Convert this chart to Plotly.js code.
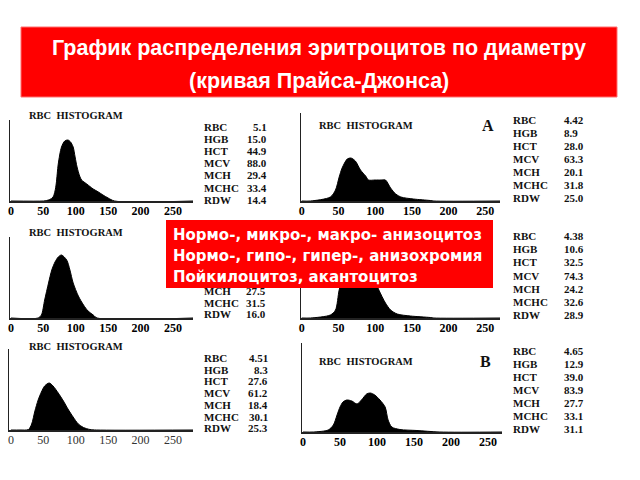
<!DOCTYPE html>
<html><head><meta charset="utf-8">
<script src="https://cdn.plot.ly/plotly-3.0.1.min.js"></script>
<style>html,body{margin:0;padding:0;background:#fff}#chart{width:640px;height:480px}</style>
</head><body><div id="chart"></div>
<script>
// ---------- DATA ----------
const titleLines = ["График распределения эритроцитов по диаметру", "(кривая Прайса-Джонса)"];
const noteLines = ["Нормо-, микро-, макро- анизоцитоз", "Нормо-, гипо-, гипер-, анизохромия", "Пойкилоцитоз, акантоцитоз"];
const histTitle = "RBC  HISTOGRAM";
const mcvTicks = [0, 50, 100, 150, 200, 250];
const paramNames = ["RBC", "HGB", "HCT", "MCV", "MCH", "MCHC", "RDW"];

// curve 1: normal
const c1_mcv = [0, 50, 55, 60, 65, 68, 70, 73, 78, 83, 88, 92, 96, 99, 102, 106, 109, 117, 127, 135, 142, 150, 160, 281];
const c1_cnt = [0, 0, 0.5, 1.5, 4, 10, 18, 37, 54, 60, 61, 59, 54, 44, 34, 25, 21, 17, 12, 9, 6, 3, 0, 0];
// curve 2: A
const c2_mcv = [0, 12, 39, 46, 51, 55, 62, 67, 73, 80, 87, 91, 100, 108, 114, 121, 128, 135, 152, 175, 180, 270];
const c2_cnt = [0, 0, 4, 11, 24, 33, 42, 43, 40, 31, 25, 21, 21, 21, 21, 13, 7, 4, 2, 0.5, 0, 0];
// curve 3
const c3_mcv = [0, 42, 47, 52, 58, 63, 68, 73, 78, 86, 91, 96, 104, 112, 119, 127, 133, 281];
const c3_cnt = [0, 0, 3, 18, 35, 48, 56, 61, 63, 58, 48, 35, 22, 13, 7, 3, 0, 0];
// curve 4 (peak partly hidden)
const c4_mcv = [0, 12, 39, 46, 51, 56, 62, 70, 80, 90, 98, 105, 114, 121, 130, 148, 175, 180, 270];
const c4_cnt = [0, 0, 3, 8, 28, 40, 46, 48, 45, 44, 40, 28, 15, 8, 4, 2, 0.5, 0, 0];
// curve 5
const c5_mcv = [0, 14, 27, 32, 37, 42, 47, 52, 59, 65, 73, 81, 88, 96, 104, 112, 122, 132, 281];
const c5_cnt = [0, 0, 0.5, 6, 19, 30, 38, 44, 47, 44, 37, 29, 21, 13, 6, 2.5, 0.5, 0, 0];
// curve 6: B
const c6_mcv = [0, 14, 34, 41, 46, 50, 54, 59, 66, 73, 79, 86, 91, 97, 104, 111, 115, 120, 131, 154, 185, 269];
const c6_cnt = [0, 0, 2, 7, 17, 25, 30, 32, 31, 28, 32, 38, 39, 37, 32, 25, 12, 5, 2.5, 1.5, 0, 0];

const v1 = ["5.1", "15.0", "44.9", "88.0", "29.4", "33.4", "14.4"];
const v2 = ["4.42", "8.9", "28.0", "63.3", "20.1", "31.8", "25.0"];
const v3names = ["MCH", "MCHC", "RDW"];
const v3 = ["27.5", "31.5", "16.0"];
const v4 = ["4.38", "10.6", "32.5", "74.3", "24.2", "32.6", "28.9"];
const v5 = ["4.51", "8.3", "27.6", "61.2", "18.4", "30.1", "25.3"];
const v6 = ["4.65", "12.9", "39.0", "83.9", "27.7", "33.1", "31.1"];
const panelLetters = ["A", "B"];

// ---------- LAYOUT ----------
const W = 640, H = 480;
const px = x => x / W, py = y => 1 - y / H;
const serif = "Liberation Serif";

const panels = [
  {x: c1_mcv, y: c1_cnt, xd: [10, 193], yd: [201, 120], xr: [-1.5, 281], yh: 81, bold: true},
  {x: c2_mcv, y: c2_cnt, xd: [301, 500], yd: [201, 113], xr: [-1, 270], yh: 88, bold: true},
  {x: c3_mcv, y: c3_cnt, xd: [10, 193], yd: [318, 237], xr: [-1.5, 281], yh: 81, bold: true},
  {x: c4_mcv, y: c4_cnt, xd: [301, 500], yd: [318, 230], xr: [-1, 270], yh: 88, bold: true},
  {x: c5_mcv, y: c5_cnt, xd: [9, 193], yd: [430, 349], xr: [-3, 281], yh: 81, bold: false},
  {x: c6_mcv, y: c6_cnt, xd: [302, 502], yd: [432, 343], xr: [-1.4, 269], yh: 89, bold: true}
];

const data = [];
const layout = {
  width: W, height: H, margin: {l: 0, r: 0, t: 0, b: 0},
  paper_bgcolor: "#fff", plot_bgcolor: "rgba(0,0,0,0)",
  showlegend: false, shapes: [], annotations: []
};

panels.forEach((p, i) => {
  const n = i === 0 ? "" : String(i + 1);
  data.push({
    type: "scatter", mode: "lines", x: p.x, y: p.y,
    xaxis: "x" + n, yaxis: "y" + n,
    line: {color: "#000", width: 1, shape: "spline", smoothing: 0.8},
    fill: "tozeroy", fillcolor: "#000", hoverinfo: "skip"
  });
  const tf = p.bold ? {family: serif, size: 12, color: "#000", weight: "bold"} : {family: serif, size: 12, color: "#333"};
  layout["xaxis" + n] = {
    domain: [px(p.xd[0]), px(p.xd[1])], range: p.xr, anchor: "y" + n,
    showline: true, linecolor: "#222", linewidth: 1.5, showgrid: false, zeroline: false,
    ticks: "", tickvals: mcvTicks, ticktext: mcvTicks.map(String),
    tickfont: tf, ticklabelstandoff: -2, fixedrange: true
  };
  layout["yaxis" + n] = {
    domain: [py(p.yd[0]), py(p.yd[1])], range: [0, p.yh], anchor: "x" + n,
    showline: true, linecolor: "#222", linewidth: 1.5, showgrid: false, zeroline: false,
    showticklabels: false, ticks: "", fixedrange: true
  };
});

function txt(text, x, y, size, opts) {
  layout.annotations.push(Object.assign({
    text: text, x: px(x), y: py(y), xref: "paper", yref: "paper",
    xanchor: "left", yanchor: "middle", showarrow: false,
    font: {family: serif, size: size, color: "#111", weight: "bold"}
  }, opts || {}));
}

// histogram titles
txt(histTitle, 27, 115, 10.5);
txt(histTitle, 317, 126, 10.5);
txt(histTitle, 27, 233, 10.5);
txt(histTitle, 27, 346, 10.5);
txt(histTitle, 317, 361, 10.5);
txt(panelLetters[0], 480, 126, 16);
txt(panelLetters[1], 478, 361, 16);

// parameter tables
function table(names, vals, lx, vx, vAnchor, y0, dy) {
  names.forEach((nm, k) => {
    txt(nm, lx, y0 + k * dy, 11);
    txt(vals[k], vx, y0 + k * dy, 11, {xanchor: vAnchor});
  });
}
table(paramNames, v1, 202, 269, "right", 127, 12.1);
table(paramNames, v2, 511, 562, "left", 120, 13);
table(v3names, v3, 202, 268, "right", 291, 11.7);
table(paramNames, v4, 511, 586, "right", 236, 13.2);
table(paramNames, v5, 202, 270, "right", 358, 11.7);
table(paramNames, v6, 511, 562, "left", 351, 13);

// title box
layout.shapes.push({type: "rect", xref: "paper", yref: "paper", x0: px(21), x1: px(617), y0: py(97), y1: py(27),
  fillcolor: "#ff0000", line: {color: "#ff7070", width: 1}, layer: "above"});
titleLines.forEach((t, k) => {
  layout.annotations.push({text: t, x: px(319), y: py(48 + k * 33), xref: "paper", yref: "paper",
    xanchor: "center", yanchor: "middle", showarrow: false,
    font: {family: "Liberation Sans", size: 21.5, color: "#fff", weight: "bold"}});
});

// overlay box
layout.shapes.push({type: "rect", xref: "paper", yref: "paper", x0: px(166), x1: px(493), y0: py(288), y1: py(220),
  fillcolor: "#ff0000", line: {width: 0}, layer: "above"});
noteLines.forEach((t, k) => {
  layout.annotations.push({text: t, x: px(171), y: py(235 + k * 21), xref: "paper", yref: "paper",
    xanchor: "left", yanchor: "middle", showarrow: false,
    font: {family: "DejaVu Sans", size: 15, color: "#fff", weight: "bold"}});
});

Plotly.newPlot("chart", data, layout, {staticPlot: true, displayModeBar: false});
</script>
</body></html>
